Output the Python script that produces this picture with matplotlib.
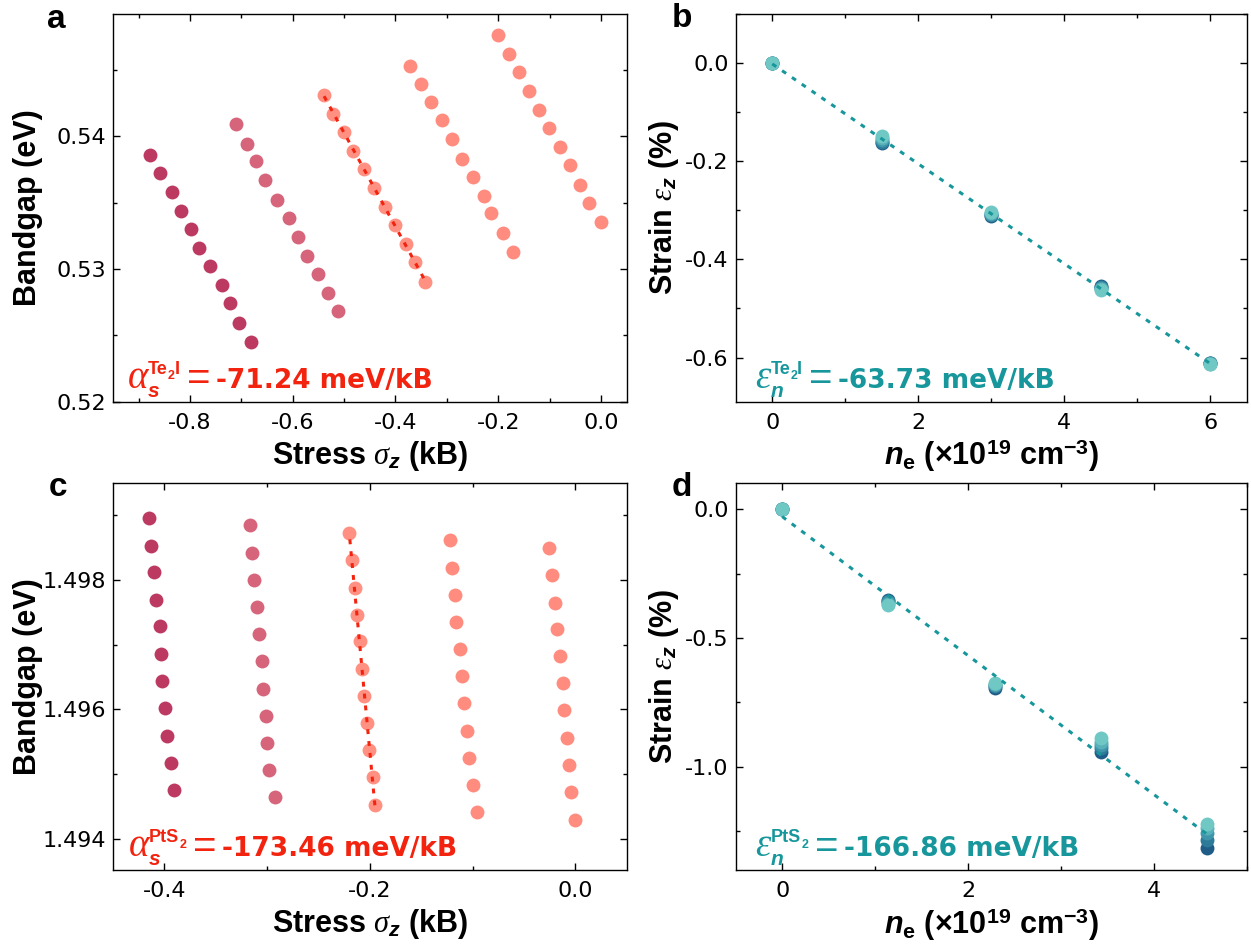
import numpy as np
import matplotlib
matplotlib.use('Agg')
import matplotlib.pyplot as plt
from matplotlib.ticker import MultipleLocator, FormatStrFormatter
from matplotlib.transforms import offset_copy

plt.rcParams['font.family'] = ['Liberation Sans', 'DejaVu Sans']
plt.rcParams['axes.unicode_minus'] = False
plt.rcParams['mathtext.fontset'] = 'custom'
plt.rcParams['mathtext.rm'] = 'Liberation Sans'
plt.rcParams['mathtext.bf'] = 'Liberation Sans:bold'
plt.rcParams['mathtext.it'] = 'Liberation Serif:italic'
plt.rcParams['mathtext.bfit'] = 'Liberation Sans:bold:italic'

# ---- panel a : Te2I, bandgap vs stress ----
stress_a = [
    [-0.878, -0.859, -0.835, -0.818, -0.797, -0.783, -0.761, -0.738, -0.722, -0.704, -0.682],
    [-0.710, -0.688, -0.671, -0.653, -0.631, -0.608, -0.590, -0.573, -0.551, -0.531, -0.511],
    [-0.539, -0.521, -0.501, -0.483, -0.461, -0.441, -0.421, -0.400, -0.380, -0.362, -0.343],
    [-0.371, -0.351, -0.331, -0.310, -0.290, -0.271, -0.249, -0.228, -0.215, -0.191, -0.172],
    [-0.200, -0.180, -0.160, -0.140, -0.121, -0.101, -0.079, -0.060, -0.041, -0.023, 0.000],
]
gap_a = [
    [0.5386, 0.5372, 0.5358, 0.5344, 0.5330, 0.5316, 0.5302, 0.5288, 0.5274, 0.5259, 0.5245],
    [0.5409, 0.5394, 0.5381, 0.5367, 0.5352, 0.5338, 0.5324, 0.5310, 0.5296, 0.5282, 0.5268],
    [0.5431, 0.5417, 0.5403, 0.5389, 0.5375, 0.5361, 0.5347, 0.5333, 0.5319, 0.5305, 0.5290],
    [0.5453, 0.5439, 0.5426, 0.5412, 0.5398, 0.5383, 0.5369, 0.5355, 0.5342, 0.5327, 0.5313],
    [0.5476, 0.5462, 0.5448, 0.5434, 0.5420, 0.5406, 0.5392, 0.5378, 0.5363, 0.5350, 0.5335],
]

# ---- panel c : PtS2, bandgap vs stress ----
stress_c = [
    [-0.4145, -0.4125, -0.4102, -0.4078, -0.4043, -0.4031, -0.4020, -0.3992, -0.3976, -0.3933, -0.3906],
    [-0.3169, -0.3149, -0.3125, -0.3102, -0.3075, -0.3051, -0.3039, -0.3012, -0.2996, -0.2980, -0.2925],
    [-0.2200, -0.2176, -0.2145, -0.2125, -0.2098, -0.2075, -0.2059, -0.2031, -0.2004, -0.1973, -0.1945],
    [-0.1224, -0.1196, -0.1173, -0.1157, -0.1125, -0.1102, -0.1082, -0.1059, -0.1035, -0.0996, -0.0957],
    [-0.0255, -0.0224, -0.0196, -0.0176, -0.0149, -0.0125, -0.0110, -0.0082, -0.0063, -0.0043, 0.0000],
]
gap_c = [
    [1.49896, 1.49853, 1.49812, 1.49769, 1.49728, 1.49686, 1.49644, 1.49602, 1.49559, 1.49517, 1.49475],
    [1.49884, 1.49841, 1.49800, 1.49758, 1.49716, 1.49674, 1.49632, 1.49590, 1.49548, 1.49506, 1.49464],
    [1.49872, 1.49830, 1.49788, 1.49746, 1.49705, 1.49662, 1.49621, 1.49579, 1.49537, 1.49495, 1.49452],
    [1.49861, 1.49819, 1.49777, 1.49735, 1.49693, 1.49652, 1.49610, 1.49567, 1.49525, 1.49484, 1.49441],
    [1.49849, 1.49808, 1.49765, 1.49724, 1.49682, 1.49640, 1.49599, 1.49556, 1.49514, 1.49472, 1.49430],
]

# ---- panel b : Te2I, strain vs electron density ----
ne_b = [0.0, 1.5, 3.0, 4.5, 6.0]
strain_b = [
    [0.0, -0.163, -0.312, -0.455, -0.612],
    [0.0, -0.160, -0.310, -0.457, -0.612],
    [0.0, -0.157, -0.308, -0.459, -0.612],
    [0.0, -0.153, -0.306, -0.461, -0.613],
    [0.0, -0.149, -0.304, -0.463, -0.613],
]

# ---- panel d : PtS2, strain vs electron density ----
ne_d = [0.0, 1.142, 2.284, 3.426, 4.568]
strain_d = [
    [0.0, -0.352, -0.692, -0.941, -1.316],
    [0.0, -0.357, -0.688, -0.928, -1.284],
    [0.0, -0.362, -0.684, -0.915, -1.256],
    [0.0, -0.368, -0.679, -0.902, -1.238],
    [0.0, -0.373, -0.674, -0.889, -1.222],
]

red_cols = ['#BC3A62', '#D6647A', '#FF9082', '#FF8C7E', '#FF8C7E']
blue_cols = ['#1F5C88', '#2D7A99', '#3F96AA', '#58B0B8', '#70C8C4']
red = '#F2230F'
teal = '#17979C'

fig = plt.figure(figsize=(12.51, 9.49), dpi=100)
ax_a = fig.add_axes([0.0902, 0.5767, 0.4108, 0.4085])
ax_b = fig.add_axes([0.5881, 0.5767, 0.4087, 0.4085])
ax_c = fig.add_axes([0.0902, 0.0832, 0.4108, 0.4075])
ax_d = fig.add_axes([0.5881, 0.0832, 0.4087, 0.4075])


def style(ax, xlim, ylim, xmaj, ymaj, xfmt, yfmt):
    ax.set_xlim(xlim)
    ax.set_ylim(ylim)
    ax.xaxis.set_major_locator(MultipleLocator(xmaj))
    ax.xaxis.set_minor_locator(MultipleLocator(xmaj / 2))
    ax.yaxis.set_major_locator(MultipleLocator(ymaj))
    ax.yaxis.set_minor_locator(MultipleLocator(ymaj / 2))
    ax.xaxis.set_major_formatter(FormatStrFormatter(xfmt))
    ax.yaxis.set_major_formatter(FormatStrFormatter(yfmt))
    ax.tick_params(which='both', direction='in', top=True, right=True, width=1.0,
                   labelsize=16, labelfontfamily='DejaVu Sans')
    ax.tick_params(which='major', length=5)
    ax.tick_params(which='minor', length=3)
    ax.tick_params(axis='x', pad=8)
    ax.tick_params(axis='y', pad=5)
    for sp in ax.spines.values():
        sp.set_linewidth(1.0)


def labels(ax, xl, yl, ylx):
    ax.set_xlabel(xl, fontsize=22, fontweight='bold', va='center')
    ax.set_ylabel(yl, fontsize=22, fontweight='bold', va='center')
    ax.xaxis.set_label_coords(0.5, -0.14)
    ax.yaxis.set_label_coords(ylx, 0.5)


def slope_text(ax, x, y, greek, sub, sup, value, color):
    # writes e.g. alpha_s^{Te2I} = value, piece by piece
    r = fig.canvas.get_renderer()
    inv = ax.transAxes.inverted()
    axw = ax.get_window_extent(r).width
    pieces = [dict(s=greek, size=28, family='Liberation Serif', style='italic'),
              dict(s=sub, size=15, style='italic', weight='bold', rise=-6.5)]
    first = True
    for txt, low in sup:
        if low:
            pieces.append(dict(s=txt, size=9, weight='bold', rise=6))
        else:
            pieces.append(dict(s=txt, size=13, weight='bold', rise=10, stack=first))
        first = False
    pieces.append(dict(s='=', size=29, rise=-1.5, gap=5))
    pieces.append(dict(s=value, size=19, family='DejaVu Sans', weight='bold', gap=4))

    cur = x
    last = x
    for p in pieces:
        if p.get('stack'):
            px = last
        else:
            px = cur + p.get('gap', 0) * fig.dpi / 72 / axw
            last = px
        tr = offset_copy(ax.transAxes, fig=fig, x=0, y=p.get('rise', 0), units='points')
        t = ax.text(px, y, p['s'], transform=tr, va='baseline', ha='left', color=color,
                    fontsize=p['size'], family=p.get('family', 'Liberation Sans'),
                    style=p.get('style', 'normal'), weight=p.get('weight', 'normal'))
        bb = t.get_window_extent(r)
        cur = max(cur, inv.transform((bb.x1, bb.y0))[0])


# panel a
for xs, ys, c in zip(stress_a, gap_a, red_cols):
    ax_a.plot(xs, ys, 'o', ms=10, mec='none', color=c, zorder=2)
k = np.polyfit(stress_a[2], gap_a[2], 1)
xf = np.array([min(stress_a[2]), max(stress_a[2])])
ax_a.plot(xf, np.polyval(k, xf), color=red, lw=2.2, ls=(0, (1.6, 2.3)), zorder=3)
style(ax_a, (-0.95, 0.05), (0.52, 0.5492), 0.2, 0.01, '%.1f', '%.2f')
labels(ax_a, r'Stress $\sigma_{\boldsymbol{z}}$ (kB)', 'Bandgap (eV)', -0.165)

# panel c
for xs, ys, c in zip(stress_c, gap_c, red_cols):
    ax_c.plot(xs, ys, 'o', ms=10, mec='none', color=c, zorder=2)
k = np.polyfit(gap_c[2], stress_c[2], 1)
yf = np.array([min(gap_c[2]), max(gap_c[2])])
ax_c.plot(np.polyval(k, yf), yf, color=red, lw=2.2, ls=(0, (1.6, 2.3)), zorder=3)
style(ax_c, (-0.45, 0.05), (1.49352, 1.49949), 0.2, 0.002, '%.1f', '%.3f')
labels(ax_c, r'Stress $\sigma_{\boldsymbol{z}}$ (kB)', 'Bandgap (eV)', -0.165)

ne_label = r'$\boldsymbol{n}_{\mathbf{e}}$ (×10$^{\mathbf{19}}$ cm$^{\mathbf{-3}}$)'
strain_label = r'Strain $\varepsilon_{\boldsymbol{z}}$ (%)'

# panel b
for ys, c in zip(strain_b, blue_cols):
    ax_b.plot(ne_b, ys, 'o', ms=10, mec='none', color=c, zorder=2)
k = np.polyfit(ne_b, np.mean(strain_b, axis=0), 1)
xf = np.array([min(ne_b), max(ne_b)])
ax_b.plot(xf, np.polyval(k, xf), color=teal, lw=2.2, ls=(0, (1.6, 2.3)), zorder=3)
style(ax_b, (-0.5, 6.5), (-0.69, 0.1), 2, 0.2, '%d', '%.1f')
labels(ax_b, ne_label, strain_label, -0.14)

# panel d
for ys, c in zip(strain_d, blue_cols):
    ax_d.plot(ne_d, ys, 'o', ms=10, mec='none', color=c, zorder=2)
k = np.polyfit(ne_d, np.mean(strain_d, axis=0), 1)
xf = np.array([min(ne_d), max(ne_d)])
ax_d.plot(xf, np.polyval(k, xf), color=teal, lw=2.2, ls=(0, (1.6, 2.3)), zorder=3)
style(ax_d, (-0.5, 5.0), (-1.4, 0.1), 2, 0.5, '%d', '%.1f')
labels(ax_d, ne_label, strain_label, -0.14)

slope_text(ax_a, 0.029, 0.036, 'α', 's', [('Te', False), ('2', True), ('I', False)],
           '-71.24 meV/kB', red)
slope_text(ax_b, 0.038, 0.036, 'ε', 'n', [('Te', False), ('2', True), ('I', False)],
           '-63.73 meV/kB', teal)
slope_text(ax_c, 0.031, 0.036, 'α', 's', [('PtS', False), ('2', True)],
           '-173.46 meV/kB', red)
slope_text(ax_d, 0.039, 0.036, 'ε', 'n', [('PtS', False), ('2', True)],
           '-166.86 meV/kB', teal)

for lab, x, y in [('a', 0.0448, 0.979), ('b', 0.5449, 0.981),
                  ('c', 0.0467, 0.486), ('d', 0.5449, 0.486)]:
    fig.text(x, y, lab, fontsize=24, fontweight='bold', ha='center', va='center')

fig.savefig('out.png', dpi=100)
